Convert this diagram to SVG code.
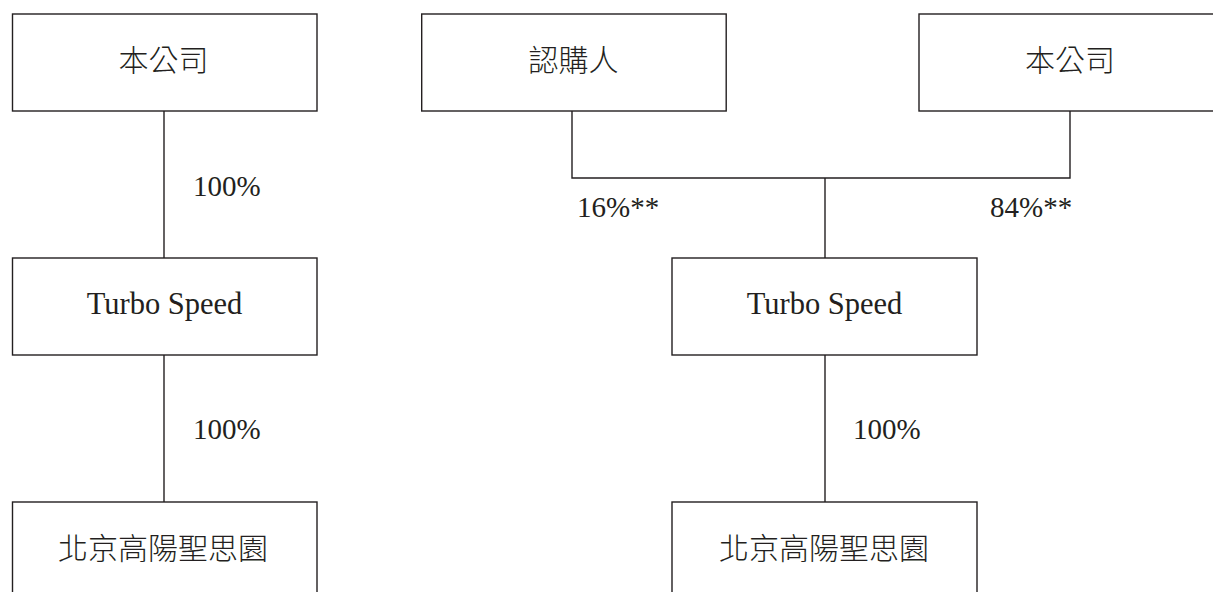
<svg xmlns="http://www.w3.org/2000/svg" width="1213" height="592" viewBox="0 0 1213 592">
<style>
.box{fill:#fff;stroke:#231f20;stroke-width:1.4}
.ln{fill:none;stroke:#231f20;stroke-width:1.4}
.t{font-family:"Liberation Serif","Noto Sans CJK TC",serif;font-size:29px;fill:#231f20}
.c{text-anchor:middle}
.big{font-size:30.5px}
.cjk{font-family:"Noto Sans CJK TC","Liberation Serif",serif;font-size:30px;font-weight:300}
</style>
<rect width="1213" height="592" fill="#fff"/>
<g id="connectors">
<line class="ln" x1="164" y1="111" x2="164" y2="258"/>
<line class="ln" x1="164" y1="355" x2="164" y2="502"/>
<polyline class="ln" points="572,111 572,178 1070,178 1070,111"/>
<line class="ln" x1="825" y1="178" x2="825" y2="258"/>
<line class="ln" x1="825" y1="355" x2="825" y2="502"/>
<text class="t" x="193" y="196">100%</text>
<text class="t" x="193" y="439">100%</text>
<text class="t" x="577" y="217">16%**</text>
<text class="t" x="990" y="217">84%**</text>
<text class="t" x="853" y="439">100%</text>
</g>
<g id="company-left">
<rect class="box" x="12.5" y="14" width="304.5" height="97"/>
<text class="t cjk c" x="163.5" y="71">本公司</text>
</g>
<g id="turbo-left">
<rect class="box" x="12.5" y="258" width="304.5" height="97"/>
<text class="t big c" x="164.5" y="314">Turbo Speed</text>
</g>
<g id="beijing-left">
<rect class="box" x="12.5" y="502" width="304.5" height="110"/>
<text class="t cjk c" x="163" y="559">北京高陽聖思園</text>
</g>
<g id="subscriber">
<rect class="box" x="421.7" y="14" width="304.5" height="97"/>
<text class="t cjk c" x="573.5" y="71">認購人</text>
</g>
<g id="company-right">
<rect class="box" x="919" y="14" width="304.5" height="97"/>
<text class="t cjk c" x="1070" y="71">本公司</text>
</g>
<g id="turbo-right">
<rect class="box" x="672" y="258" width="305" height="97"/>
<text class="t big c" x="824.5" y="314">Turbo Speed</text>
</g>
<g id="beijing-right">
<rect class="box" x="672" y="502" width="305" height="110"/>
<text class="t cjk c" x="824" y="559">北京高陽聖思園</text>
</g>
</svg>
